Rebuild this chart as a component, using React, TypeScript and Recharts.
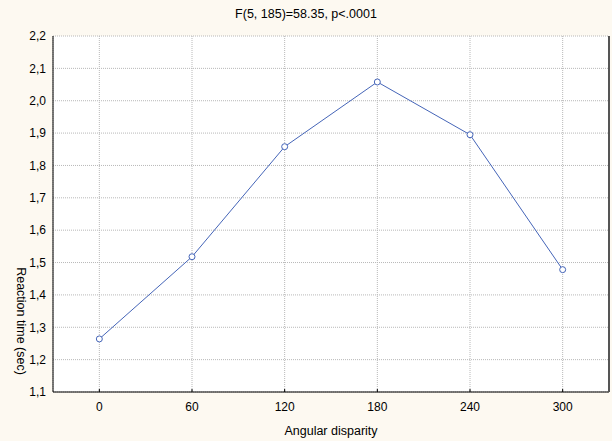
import React from "react";
import {
  LineChart, Line, XAxis, YAxis, CartesianGrid, Label,
} from "recharts";

const angles = [0, 60, 120, 180, 240, 300];
const reactionTimes = [1.264, 1.518, 1.858, 2.058, 1.895, 1.478];
const yTicks = [1.1, 1.2, 1.3, 1.4, 1.5, 1.6, 1.7, 1.8, 1.9, 2.0, 2.1, 2.2];
const title = "F(5, 185)=58.35, p<.0001";

const data = angles.map((a, i) => ({ angle: a, rt: reactionTimes[i] }));

const font = "'Liberation Sans', Arial, sans-serif";
const comma = (v: number) => v.toFixed(1).replace(".", ",");

export default function App() {
  return (
    <div style={{ position: "absolute", left: 0, top: 0, width: 612, height: 441, background: "#fdf9f1" }}>
      <LineChart
        width={612}
        height={441}
        data={data}
        margin={{ top: 36, right: 0, bottom: 19, left: 0 }}
        style={{ fontFamily: font }}
      >
        <CartesianGrid fill="#ffffff" stroke="#b8b8b8" strokeDasharray="1 1" />
        <XAxis
          dataKey="angle"
          type="number"
          domain={[-30, 330]}
          ticks={angles}
          height={30}
          stroke="#000"
          tickSize={-3}
          tickMargin={13}
          tick={{ fill: "#000", fontSize: 12 }}
        >
          <Label
            content={({ viewBox }: any) => (
              <text x={viewBox.x + viewBox.width / 2} y={432} textAnchor="middle" dominantBaseline="middle" fontSize={12.5} fill="#000">
                Angular disparity
              </text>
            )}
          />
        </XAxis>
        <XAxis
          xAxisId="top"
          orientation="top"
          type="number"
          domain={[-30, 330]}
          ticks={angles}
          height={0}
          stroke="#000"
          tickSize={-3}
          tick={false}
        />
        <YAxis
          type="number"
          domain={[1.1, 2.2]}
          ticks={yTicks}
          width={53}
          stroke="#000"
          tickLine={false}
          tickSize={0}
          tickMargin={7}
          tickFormatter={comma}
          tick={{ fill: "#000", fontSize: 12 }}
          interval={0}
        >
          <Label
            content={() => (
              <g>
                <text x={20} y={321} textAnchor="middle" dominantBaseline="middle" fontSize={12.5} fill="#000" transform="rotate(90 20 321)">
                  Reaction time (sec)
                </text>
                <text x={306} y={15} textAnchor="middle" dominantBaseline="middle" fontSize={12.5} fill="#000">
                  {title}
                </text>
              </g>
            )}
          />
        </YAxis>
        <YAxis
          yAxisId="right"
          orientation="right"
          type="number"
          domain={[1.1, 2.2]}
          ticks={yTicks}
          width={3}
          stroke="#555"
          strokeWidth={2}
          tickSize={-3}
          tick={false}
          interval={0}
        />
        <Line
          type="linear"
          dataKey="rt"
          stroke="#4565b8"
          strokeWidth={1}
          dot={{ r: 3, fill: "#fff", stroke: "#4565b8", strokeWidth: 1 }}
          isAnimationActive={false}
        />
      </LineChart>
    </div>
  );
}
